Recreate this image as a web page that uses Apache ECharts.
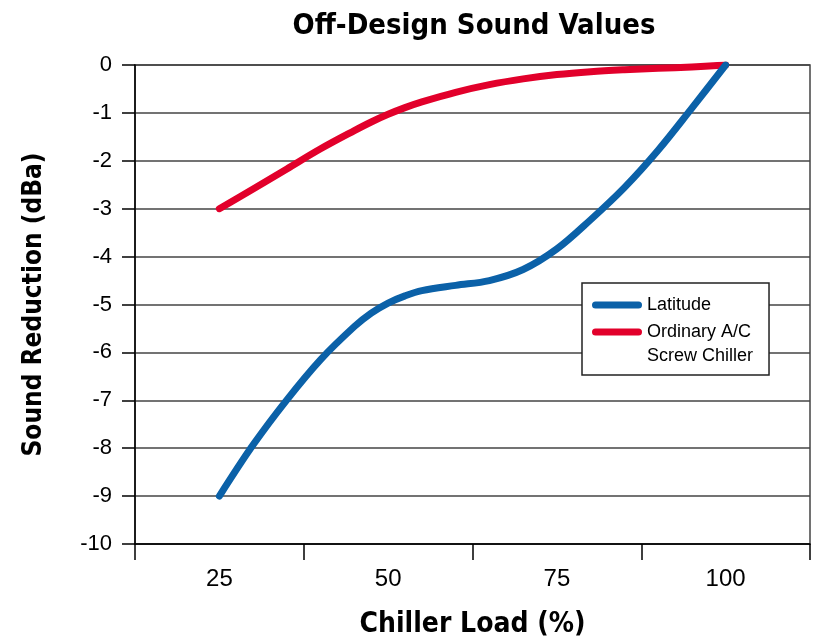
<!DOCTYPE html>
<html>
<head>
<meta charset="utf-8">
<script src="https://cdn.jsdelivr.net/npm/echarts@6/dist/echarts.min.js"></script>
<style>
  html, body { margin: 0; padding: 0; background: #fff; }
  #chart { width: 815px; height: 639px; }
</style>
</head>
<body>
<div id="chart"></div>
<script>
// Chiller load (%) sample positions
const loadPct = [25, 30, 35, 40, 45, 47.5, 50, 52.5, 55, 60, 65, 70, 75, 80, 85, 90, 95, 100];
// Latitude curve (dBa)
const latitudeDb = [-9, -7.93, -6.99, -6.15, -5.46, -5.18, -4.97, -4.82, -4.71, -4.6, -4.5, -4.27, -3.84, -3.23, -2.56, -1.78, -0.9, 0];
// Ordinary A/C screw chiller curve (dBa)
const ordinaryDb = [-3, -2.59, -2.17, -1.75, -1.37, -1.19, -1.03, -0.89, -0.77, -0.57, -0.41, -0.29, -0.2, -0.14, -0.1, -0.07, -0.04, 0];
// Tick labels
const xTickLabels = ['25', '50', '75', '100'];
const seriesNames = ['Latitude', 'Ordinary A/C\nScrew Chiller'];

const headFont = 'DejaVu Sans Condensed';
const bodyFont = 'Liberation Sans';
const capsule = 'path://M3.5,0 H46.5 A3.5,3.5 0 0 1 46.5,7 H3.5 A3.5,3.5 0 0 1 3.5,0 Z';

const chart = echarts.init(document.getElementById('chart'), null, { renderer: 'canvas' });
chart.setOption({
  animation: false,
  backgroundColor: '#ffffff',
  title: {
    text: 'Off-Design Sound Values',
    left: 469,
    top: 7,
    textAlign: 'center',
    textStyle: { fontFamily: headFont, fontWeight: 'bold', fontSize: 29, color: '#000' }
  },
  grid: {
    left: 135, right: 5, top: 65, bottom: 95,
    outerBoundsMode: 'none',
    containLabel: false,
    show: true, borderColor: '#444', borderWidth: 1.5, backgroundColor: 'transparent'
  },
  legend: {
    orient: 'vertical',
    left: 582,
    top: 283,
    padding: [10, 16, 7, 10],
    itemGap: -21,
    itemWidth: 50,
    itemHeight: 7,
    backgroundColor: '#ffffff',
    borderColor: '#222',
    borderWidth: 1.5,
    borderRadius: 0,
    formatter: function (name) {
      return name.indexOf('\n') >= 0 ? '\n' + name : name;
    },
    textStyle: { fontFamily: bodyFont, fontSize: 18, color: '#000', lineHeight: 24 },
    data: [
      { name: seriesNames[0], icon: capsule },
      { name: seriesNames[1], icon: capsule }
    ]
  },
  xAxis: [
    {
      type: 'value', min: 12.5, max: 112.5, position: 'top', show: false
    },
    {
      type: 'category', data: xTickLabels, boundaryGap: true, position: 'bottom',
      axisLine: { lineStyle: { color: '#000', width: 1.5 } },
      axisTick: { show: true, length: 16, lineStyle: { color: '#000', width: 1.5 } },
      axisLabel: { fontFamily: bodyFont, fontSize: 24, color: '#000', margin: 23 },
      splitLine: { show: false },
      name: 'Chiller Load (%)',
      nameLocation: 'middle',
      nameGap: 67,
      nameTextStyle: { fontFamily: headFont, fontWeight: 'bold', fontSize: 28, color: '#000' }
    }
  ],
  yAxis: {
    type: 'value', min: -10, max: 0, interval: 1,
    axisLine: { show: true, lineStyle: { color: '#000', width: 1.5 } },
    axisTick: { show: true, length: 13, lineStyle: { color: '#000', width: 1.5 } },
    axisLabel: { fontFamily: bodyFont, fontSize: 22, color: '#000', margin: 23 },
    splitLine: { show: true, lineStyle: { color: '#444', width: 1.5 } },
    name: 'Sound Reduction (dBa)',
    nameLocation: 'middle',
    nameGap: 88,
    nameTextStyle: { fontFamily: headFont, fontWeight: 'bold', fontSize: 26, color: '#000' }
  },
  series: [
    {
      name: seriesNames[0], type: 'line', xAxisIndex: 0, z: 3,
      data: loadPct.map((x, i) => [x, latitudeDb[i]]),
      smooth: 0.35, showSymbol: false, symbol: 'none',
      itemStyle: { color: '#0b61a8' },
      lineStyle: { color: '#0b61a8', width: 7, cap: 'round', join: 'round' }
    },
    {
      name: seriesNames[1], type: 'line', xAxisIndex: 0, z: 2,
      data: loadPct.map((x, i) => [x, ordinaryDb[i]]),
      smooth: 0.35, showSymbol: false, symbol: 'none',
      itemStyle: { color: '#e2002b' },
      lineStyle: { color: '#e2002b', width: 7, cap: 'round', join: 'round' }
    }
  ]
});
</script>
</body>
</html>
